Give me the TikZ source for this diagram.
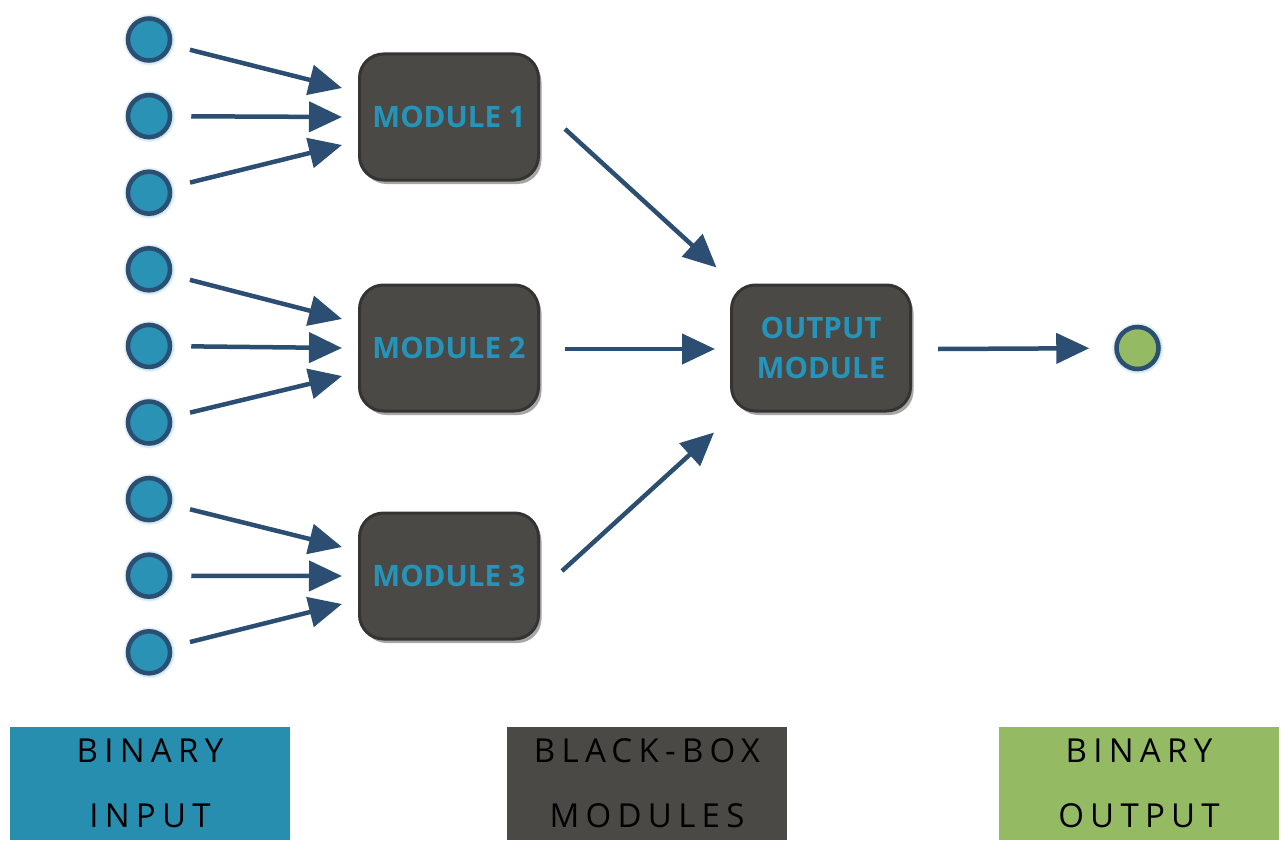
\documentclass[tikz,border=0pt]{standalone}
\usepackage{fontspec}
\setmainfont{Open Sans}
\newfontfamily\legfont[LetterSpace=19]{Open Sans}
\usetikzlibrary{arrows.meta,shadows}
\definecolor{cblue}{HTML}{2A92B5}
\definecolor{cborder}{HTML}{2C4E72}
\definecolor{mgray}{HTML}{4B4945}
\definecolor{mborder}{HTML}{363432}
\definecolor{tblue}{HTML}{2594BA}
\definecolor{cgreen}{HTML}{94BA63}
\definecolor{legblue}{HTML}{278EB0}
\tikzset{
  inp/.style={circle, draw=cborder, line width=4.5pt, fill=cblue, minimum size=42pt, inner sep=0pt,
    circular glow={fill=cblue!70, opacity=0.45}},
  outp/.style={inp, fill=cgreen},
  mod/.style={draw=mborder, line width=3pt, fill=mgray, rounded corners=24pt,
    minimum width=179pt, minimum height=126pt, text=tblue, align=center,
    font=\fontsize{29.5}{40}\selectfont\bfseries,
    drop shadow={shadow xshift=3pt, shadow yshift=-4pt, opacity=0.35, fill=black}},
  arr/.style={draw=cborder, line width=4.5pt, -{Triangle[length=33pt,width=30pt]}},
  leg/.style={minimum width=280pt, minimum height=113pt, inner sep=0pt, align=center,
    font=\legfont\fontsize{33}{65}\selectfont, text=black}
}
\begin{document}
\begin{tikzpicture}[x=1pt,y=-1pt]
\useasboundingbox (0,0) rectangle (1281,840);
% inputs
\foreach \i in {1,...,9} {
  \node[inp] (i\i) at (149, {39.5+76.6*(\i-1)}) {};
}
% modules
\node[mod] (m1) at (449,117) {MODULE 1};
\node[mod] (m2) at (449,348) {MODULE 2};
\node[mod] (m3) at (449,576) {MODULE 3};
\node[mod] (out) at (821,348) {OUTPUT\\MODULE};
\node[outp] (g) at (1137.5,348) {};
% input arrows
\foreach \m/\a/\b/\c in {m1/1/2/3, m2/4/5/6, m3/7/8/9} {
  \draw[arr, shorten <=19pt] (i\a) -- ([shift={(-16,-29)}]\m.west);
  \draw[arr, shorten <=19pt] (i\b) -- ([shift={(-16,0)}]\m.west);
  \draw[arr, shorten <=19pt] (i\c) -- ([shift={(-16,28)}]\m.west);
}
% module -> output
\draw[arr] ([shift={(25,12)}]m1.east) -- ([shift={(-13.5,-16)}]out.north west);
\draw[arr] ([shift={(25,1)}]m2.east) -- ([shift={(-15,1)}]out.west);
\draw[arr] ([shift={(22,-5)}]m3.east) -- ([shift={(-16,20)}]out.south west);
\draw[arr, shorten >=25pt] ([shift={(26,1)}]out.east) -- (g);
% legend
\node[leg, fill=legblue] (l1) at (150,783.5) {BINARY\\INPUT};
\node[leg, fill=mgray] (l2) at (647,783.5) {BLACK-BOX\\MODULES};
\node[leg, fill=cgreen] (l3) at (1139,783.5) {BINARY\\OUTPUT};
\end{tikzpicture}
\end{document}
